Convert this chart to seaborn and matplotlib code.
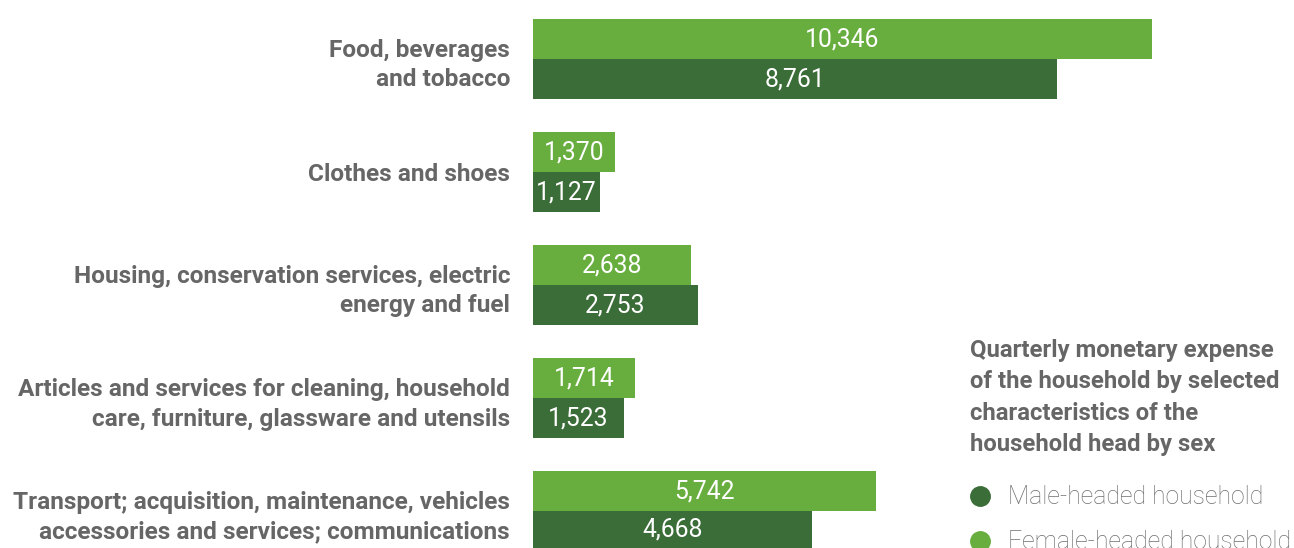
import matplotlib
matplotlib.use("Agg")
import matplotlib.pyplot as plt
from matplotlib.lines import Line2D
import seaborn as sns
import pandas as pd

# Quarterly monetary expense by household head sex
categories = [
    "Food, beverages\nand tobacco",
    "Clothes and shoes",
    "Housing, conservation services, electric\nenergy and fuel",
    "Articles and services for cleaning, household\ncare, furniture, glassware and utensils",
    "Transport; acquisition, maintenance, vehicles\naccessories and services; communications",
]
female_values = [10346, 1370, 2638, 1714, 5742]
male_values = [8761, 1127, 2753, 1523, 4668]
series_names = ["Female-headed household", "Male-headed household"]
legend_title = ("Quarterly monetary expense\nof the household by selected\n"
                "characteristics of the\nhousehold head by sex")

LIGHT = "#68ae3f"
DARK = "#3b6d38"
GREY = "#666666"

df = pd.DataFrame({
    "category": categories * 2,
    "value": female_values + male_values,
    "sex": [series_names[0]] * len(categories) + [series_names[1]] * len(categories),
})

sns.set_style("white")
plt.rcParams["font.family"] = ["Roboto", "DejaVu Sans"]

W, H = 1294, 548
fig = plt.figure(figsize=(W / 100, H / 100), dpi=100)
ax = fig.add_axes([533 / W, 0, 720 / W, 1])

sns.barplot(data=df, y="category", x="value", hue="sex", hue_order=series_names,
            palette=[LIGHT, DARK], orient="h", width=0.708, saturation=1,
            linewidth=0, legend=False, ax=ax)

ax.set_xlim(0, 720 / 0.0598)
ax.set_ylim(4.323, -0.522)

for cont in ax.containers:
    ax.bar_label(cont, fmt="{:,.0f}", label_type="center", color="white",
                 fontsize=17.8)

ax.set_xlabel("")
ax.set_ylabel("")
ax.set_xticks([])
ax.set_yticks(range(len(categories)))
ax.set_yticklabels(categories, fontweight="bold", color=GREY, fontsize=17.6,
                   linespacing=1.37)
ax.tick_params(axis="y", length=0, pad=16.5)
for s in ax.spines.values():
    s.set_visible(False)

handles = [
    Line2D([], [], marker="o", linestyle="none", markersize=14,
           markerfacecolor=DARK, markeredgecolor=DARK, label=series_names[1]),
    Line2D([], [], marker="o", linestyle="none", markersize=14,
           markerfacecolor=LIGHT, markeredgecolor=LIGHT, label=series_names[0]),
]
leg = fig.legend(handles=handles, title=legend_title, loc="upper left",
                 bbox_to_anchor=(960 / W, 1 - 329 / H), frameon=False,
                 alignment="left", fontsize=17.8, labelspacing=0.85,
                 handlelength=0.82, handletextpad=0.72, borderaxespad=0)
title = leg.get_title()
title.set_fontweight("bold")
title.set_color(GREY)
title.set_fontsize(17.2)
title.set_linespacing(1.47)
for t in leg.get_texts():
    t.set_color("#6e6e6e")
    t.set_fontweight("light")
leg._legend_box.sep = 21

fig.savefig("out.png", dpi=100, facecolor="white")
